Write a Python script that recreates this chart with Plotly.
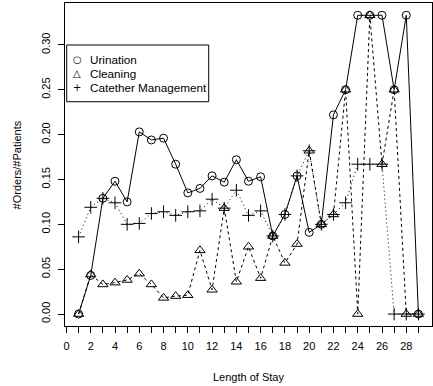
import plotly.graph_objects as go

# Length of stay (days)
stay = list(range(1, 30))

# Orders per patient for each nursing activity
urination = [0.000, 0.043, 0.129, 0.148, 0.125, 0.203, 0.194, 0.196, 0.167, 0.135,
             0.140, 0.154, 0.147, 0.172, 0.148, 0.153, 0.087, 0.111, 0.154, 0.091,
             0.100, 0.222, 0.250, 0.333, 0.333, 0.333, 0.250, 0.333, 0.000]
cleaning = [0.000, 0.044, 0.033, 0.035, 0.038, 0.045, 0.033, 0.018, 0.020, 0.021,
            0.071, 0.027, 0.118, 0.036, 0.075, 0.040, 0.087, 0.057, 0.078, 0.182,
            0.100, 0.111, 0.250, 0.000, 0.333, 0.167, 0.250, 0.000, 0.000]
catheter = [0.086, 0.119, 0.129, 0.124, 0.100, 0.101, 0.112, 0.114, 0.110, 0.114,
            0.115, 0.128, 0.118, 0.138, 0.110, 0.115, 0.087, 0.111, 0.154, 0.182,
            0.100, 0.111, 0.124, 0.167, 0.167, 0.167, 0.000, 0.000, 0.000]

series_names = ["Urination", "Cleaning", "Catether Management"]
legend_glyphs = ["\u25CB", "\u25B3", "+"]

x_tick_vals = list(range(0, 30))
x_tick_text = [str(v) if v % 2 == 0 else "" for v in x_tick_vals]
y_tick_vals = [0.00, 0.05, 0.10, 0.15, 0.20, 0.25, 0.30]
y_tick_text = ["0.00", "0.05", "0.10", "0.15", "0.20", "0.25", "0.30"]

FONT = "Liberation Sans, Arial, Helvetica, sans-serif"

styles = [
    (urination, "solid", "circle-open", 8),
    (cleaning, "3px,3px", "triangle-up-open", 9),
    (catheter, "1px,3px", "cross-thin-open", 9),
]

fig = go.Figure()

# connecting lines
for values, dash, _, _ in styles:
    fig.add_trace(go.Scatter(
        x=stay, y=values, mode="lines",
        line=dict(color="black", width=1, dash=dash),
        showlegend=False, hoverinfo="skip",
    ))

# point symbols
for name, (values, _, symbol, size) in zip(series_names, styles):
    fig.add_trace(go.Scatter(
        x=stay, y=values, mode="markers", name=name, showlegend=False,
        marker=dict(symbol=symbol, size=size, color="black",
                    line=dict(color="black", width=1)),
    ))

axis_common = dict(
    showline=True, mirror=True, linecolor="black", linewidth=1,
    showgrid=False, zeroline=False, ticks="outside", ticklen=6,
    tickcolor="black", tickwidth=1,
    tickfont=dict(family=FONT, size=11, color="black"),
)

fig.update_xaxes(range=[-0.12, 30.12], tickmode="array",
                 tickvals=x_tick_vals, ticktext=x_tick_text,
                 ticklabelstandoff=4, **axis_common)
fig.update_yaxes(range=[-0.01333, 0.34667], tickmode="array",
                 tickvals=y_tick_vals, ticktext=y_tick_text,
                 tickangle=-90, ticklabelstandoff=4, **axis_common)

# axis titles
fig.add_annotation(text="Length of Stay", xref="paper", yref="paper",
                   x=0.5, y=-0.158, xanchor="center", yanchor="middle",
                   showarrow=False, font=dict(family=FONT, size=11, color="black"))
fig.add_annotation(text="#Orders/#Patients", xref="paper", yref="paper",
                   x=-0.131, y=0.5, xanchor="center", yanchor="middle",
                   textangle=-90, showarrow=False,
                   font=dict(family=FONT, size=11, color="black"))

# legend box with symbol keys
fig.add_shape(type="rect", xref="paper", yref="paper",
              x0=0.0046, x1=0.3916, y0=0.6944, y1=0.870,
              line=dict(color="black", width=1), fillcolor="white", layer="above")
legend_rows_y = [0.824, 0.781, 0.737]
for glyph, name, ry in zip(legend_glyphs, series_names, legend_rows_y):
    fig.add_annotation(text=glyph, xref="paper", yref="paper",
                       x=0.0335, y=ry, xanchor="center", yanchor="middle",
                       showarrow=False,
                       font=dict(family="DejaVu Sans", size=10, color="black"))
    fig.add_annotation(text=name, xref="paper", yref="paper",
                       x=0.0615, y=ry, xanchor="left", yanchor="middle",
                       showarrow=False,
                       font=dict(family=FONT, size=11.7, color="black"))

fig.update_layout(
    width=433, height=386,
    margin=dict(l=65, r=1, t=3, b=60),
    plot_bgcolor="white", paper_bgcolor="white",
    showlegend=False,
)

fig.write_html("out.html")
